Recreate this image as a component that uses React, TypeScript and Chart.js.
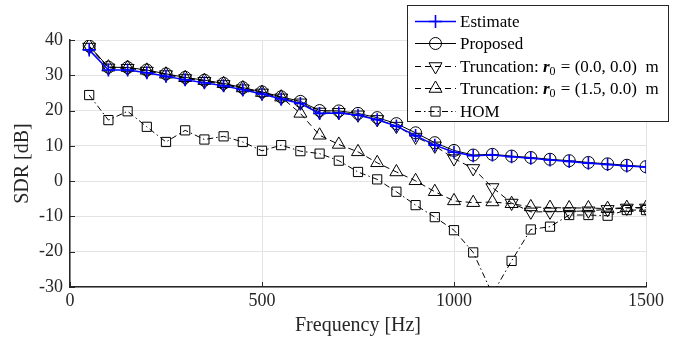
import React, { useEffect, useRef } from 'react';
import { Chart, registerables } from 'chart.js';

Chart.register(...registerables);

const FONT = '"Liberation Serif", "Times New Roman", Times, serif';
const AXIS_COLOR = '#262626';

const frequencies = [
  50, 100, 150, 200, 250, 300, 350, 400, 450, 500,
  550, 600, 650, 700, 750, 800, 850, 900, 950, 1000,
  1050, 1100, 1150, 1200, 1250, 1300, 1350, 1400, 1450, 1500,
];

const estimate = [
  37.2, 31.5, 31.5, 30.7, 29.7, 28.7, 27.9, 27.0, 25.9, 24.7,
  23.3, 22.0, 19.2, 19.3, 18.7, 17.4, 15.6, 12.9, 10.2, 8.2,
  7.2, 7.4, 6.9, 6.5, 6.0, 5.6, 5.1, 4.7, 4.3, 4.0,
];

const proposed = [
  38.3, 32.3, 32.2, 31.5, 30.4, 29.4, 28.6, 27.7, 26.5, 25.3,
  23.9, 22.6, 20.0, 19.9, 19.2, 18.0, 16.3, 13.7, 10.9, 8.7,
  7.4, 7.6, 7.1, 6.7, 6.2, 5.8, 5.3, 4.9, 4.5, 4.1,
];

const truncationOrigin = [
  38.0, 32.1, 32.0, 31.2, 30.2, 29.1, 28.3, 27.4, 26.2, 25.0,
  23.6, 22.2, 19.6, 19.5, 18.8, 17.5, 15.6, 12.5, 10.0, 6.4,
  3.6, -1.8, -6.2, -8.7, -8.7, -8.6, -8.4, -8.0, -7.6, -7.6,
];

const truncationOffset = [
  38.3, 32.3, 32.2, 31.4, 30.3, 29.3, 28.5, 27.6, 26.4, 25.1,
  23.8, 19.2, 13.0, 10.4, 8.3, 5.2, 2.6, 0.1, -3.0, -5.6,
  -6.1, -5.9, -6.4, -7.3, -7.5, -7.6, -7.6, -7.8, -7.5, -7.5,
];

const hom = [
  24.4, 17.3, 19.8, 15.4, 11.1, 14.4, 11.8, 12.7, 11.1, 8.6,
  10.2, 8.5, 7.8, 5.8, 2.6, 0.5, -3.0, -6.8, -10.2, -13.9,
  -20.2, -32.0, -22.6, -13.7, -12.9, -9.6, -9.6, -9.8, -8.2, -8.2,
];

const xTicks = [0, 500, 1000, 1500];
const yTicks = [-30, -20, -10, 0, 10, 20, 30, 40];

const toPoints = (values: number[]) => values.map((y, i) => ({ x: frequencies[i], y }));

function drawMarker(ctx: CanvasRenderingContext2D, style: string, x: number, y: number, r: number, rotationDeg: number) {
  const rad = (rotationDeg * Math.PI) / 180;
  ctx.beginPath();
  if (style === 'circle') {
    ctx.arc(x, y, r, 0, Math.PI * 2);
    ctx.closePath();
  } else if (style === 'triangle') {
    let a = rad;
    ctx.moveTo(x + Math.sin(a) * r, y - Math.cos(a) * r);
    a += (2 * Math.PI) / 3;
    ctx.lineTo(x + Math.sin(a) * r, y - Math.cos(a) * r);
    a += (2 * Math.PI) / 3;
    ctx.lineTo(x + Math.sin(a) * r, y - Math.cos(a) * r);
    ctx.closePath();
  } else if (style === 'rect') {
    const s = Math.SQRT1_2 * r;
    ctx.rect(x - s, y - s, 2 * s, 2 * s);
  } else if (style === 'cross') {
    ctx.moveTo(x, y - r);
    ctx.lineTo(x, y + r);
    ctx.moveTo(x - r, y);
    ctx.lineTo(x + r, y);
  }
  ctx.stroke();
}

export default function App() {
  const ref = useRef<HTMLCanvasElement | null>(null);

  useEffect(() => {
    const canvas = ref.current;
    if (!canvas) return;

    const inwardTicks = {
      id: 'inwardTicks',
      afterDraw(chart: any) {
        const { ctx, chartArea } = chart;
        const xs = chart.scales.x;
        const ys = chart.scales.y;
        ctx.save();
        ctx.strokeStyle = AXIS_COLOR;
        ctx.lineWidth = 1;
        ctx.setLineDash([]);
        const len = 5;
        yTicks.forEach((v) => {
          const py = Math.round(ys.getPixelForValue(v)) + 0.5;
          ctx.beginPath();
          ctx.moveTo(chartArea.left, py);
          ctx.lineTo(chartArea.left + len, py);
          ctx.stroke();
        });
        xTicks.forEach((v) => {
          const px = Math.round(xs.getPixelForValue(v)) + 0.5;
          ctx.beginPath();
          ctx.moveTo(px, chartArea.bottom);
          ctx.lineTo(px, chartArea.bottom - len);
          ctx.stroke();
        });
        ctx.restore();
      },
    };

    const legendBox = {
      id: 'legendBox',
      afterDraw(chart: any) {
        const { ctx } = chart;
        const left = 407;
        const top = 5;
        const right = 669;
        const bottom = 122;
        const size = 17;
        ctx.save();
        ctx.fillStyle = '#ffffff';
        ctx.fillRect(left, top, right - left, bottom - top);
        ctx.strokeStyle = AXIS_COLOR;
        ctx.lineWidth = 1;
        ctx.setLineDash([]);
        ctx.strokeRect(left + 0.5, top + 0.5, right - left - 1, bottom - top - 1);

        const rowStart = 21;
        const rowGap = 22.4;
        chart.data.datasets.forEach((ds: any, i: number) => {
          const y = Math.round(rowStart + i * rowGap) + 0.5;
          ctx.strokeStyle = ds.borderColor;
          ctx.lineWidth = ds.borderWidth;
          ctx.setLineDash(ds.borderDash || []);
          ctx.beginPath();
          ctx.moveTo(415, y);
          ctx.lineTo(456, y);
          ctx.stroke();
          ctx.setLineDash([]);
          ctx.lineWidth = ds.pointBorderWidth;
          ctx.strokeStyle = ds.pointBorderColor;
          drawMarker(ctx, ds.pointStyle, 435.5, y, ds.pointRadius, ds.pointRotation || 0);

          ctx.fillStyle = '#000000';
          ctx.textBaseline = 'middle';
          ctx.textAlign = 'left';
          const label: string = ds.label;
          let tx = 460;
          const ty = y + 1;
          const idx = label.indexOf('r₀');
          if (idx >= 0) {
            const pre = label.slice(0, idx);
            const post = label.slice(idx + 2);
            ctx.font = `${size}px ${FONT}`;
            ctx.fillText(pre, tx, ty);
            tx += ctx.measureText(pre).width;
            ctx.font = `italic bold ${size}px ${FONT}`;
            ctx.fillText('r', tx, ty);
            tx += ctx.measureText('r').width;
            ctx.font = `12px ${FONT}`;
            ctx.fillText('0', tx, ty + 4);
            tx += ctx.measureText('0').width + 1;
            ctx.font = `${size}px ${FONT}`;
            ctx.fillText(post, tx, ty);
          } else {
            ctx.font = `${size}px ${FONT}`;
            ctx.fillText(label, tx, ty);
          }
        });
        ctx.restore();
      },
    };

    const chart = new Chart(canvas, {
      type: 'line',
      data: {
        datasets: [
          {
            label: 'Estimate',
            data: toPoints(estimate),
            borderColor: '#0000ff',
            borderWidth: 1.5,
            pointStyle: 'cross',
            pointRadius: 6.5,
            pointBorderWidth: 1.6,
            pointBorderColor: '#0000ff',
            pointBackgroundColor: 'transparent',
            tension: 0,
          },
          {
            label: 'Proposed',
            data: toPoints(proposed),
            borderColor: '#000000',
            borderWidth: 1,
            pointStyle: 'circle',
            pointRadius: 6,
            pointBorderWidth: 1,
            pointBorderColor: '#000000',
            pointBackgroundColor: 'transparent',
            tension: 0,
          },
          {
            label: 'Truncation: r₀ = (0.0, 0.0)  m',
            data: toPoints(truncationOrigin),
            borderColor: '#000000',
            borderWidth: 1,
            borderDash: [6, 4],
            pointStyle: 'triangle',
            pointRotation: 180,
            pointRadius: 7.5,
            pointBorderWidth: 1,
            pointBorderColor: '#000000',
            pointBackgroundColor: 'transparent',
            tension: 0,
          },
          {
            label: 'Truncation: r₀ = (1.5, 0.0)  m',
            data: toPoints(truncationOffset),
            borderColor: '#000000',
            borderWidth: 1,
            borderDash: [6, 4],
            pointStyle: 'triangle',
            pointRotation: 0,
            pointRadius: 7.5,
            pointBorderWidth: 1,
            pointBorderColor: '#000000',
            pointBackgroundColor: 'transparent',
            tension: 0,
          },
          {
            label: 'HOM',
            data: toPoints(hom),
            borderColor: '#000000',
            borderWidth: 1,
            borderDash: [6, 3, 1.5, 3],
            pointStyle: 'rect',
            pointRadius: 6.5,
            pointBorderWidth: 1,
            pointBorderColor: '#000000',
            pointBackgroundColor: 'transparent',
            tension: 0,
          },
        ],
      },
      options: {
        animation: false,
        responsive: false,
        events: [],
        layout: { padding: { left: 0, top: 40, right: 40, bottom: 0 } },
        plugins: {
          legend: { display: false },
          tooltip: { enabled: false },
        },
        scales: {
          x: {
            type: 'linear',
            min: 0,
            max: 1500,
            afterBuildTicks: (scale: any) => {
              scale.ticks = xTicks.map((v) => ({ value: v }));
            },
            afterFit: (scale: any) => {
              scale.height = 56;
            },
            ticks: {
              font: { family: FONT, size: 18 },
              color: AXIS_COLOR,
              padding: 3,
              maxRotation: 0,
              autoSkip: false,
              callback: (v: any) => String(v),
            },
            grid: { color: '#e3e3e3', lineWidth: 1, drawTicks: false },
            border: { display: true, color: AXIS_COLOR, width: 1.5 },
            title: {
              display: true,
              text: 'Frequency [Hz]',
              font: { family: FONT, size: 20 },
              color: AXIS_COLOR,
              padding: { top: 0, bottom: 5 },
            },
          },
          y: {
            type: 'linear',
            min: -30,
            max: 40,
            afterBuildTicks: (scale: any) => {
              scale.ticks = yTicks.map((v) => ({ value: v }));
            },
            afterFit: (scale: any) => {
              scale.width = 70;
            },
            ticks: {
              font: { family: FONT, size: 18 },
              color: AXIS_COLOR,
              padding: 7,
              autoSkip: false,
              callback: (v: any) => String(v),
            },
            grid: { color: '#e3e3e3', lineWidth: 1, drawTicks: false },
            border: { display: true, color: AXIS_COLOR, width: 1.5 },
            title: {
              display: true,
              text: 'SDR [dB]',
              font: { family: FONT, size: 20 },
              color: AXIS_COLOR,
              padding: { top: 11, bottom: 0 },
            },
          },
        },
      } as any,
      plugins: [inwardTicks, legendBox],
    });

    return () => chart.destroy();
  }, []);

  return (
    <div style={{ position: 'absolute', left: 0, top: 0, width: 686, height: 343, background: '#ffffff' }}>
      <canvas ref={ref} width={686} height={343} style={{ display: 'block' }} />
    </div>
  );
}
